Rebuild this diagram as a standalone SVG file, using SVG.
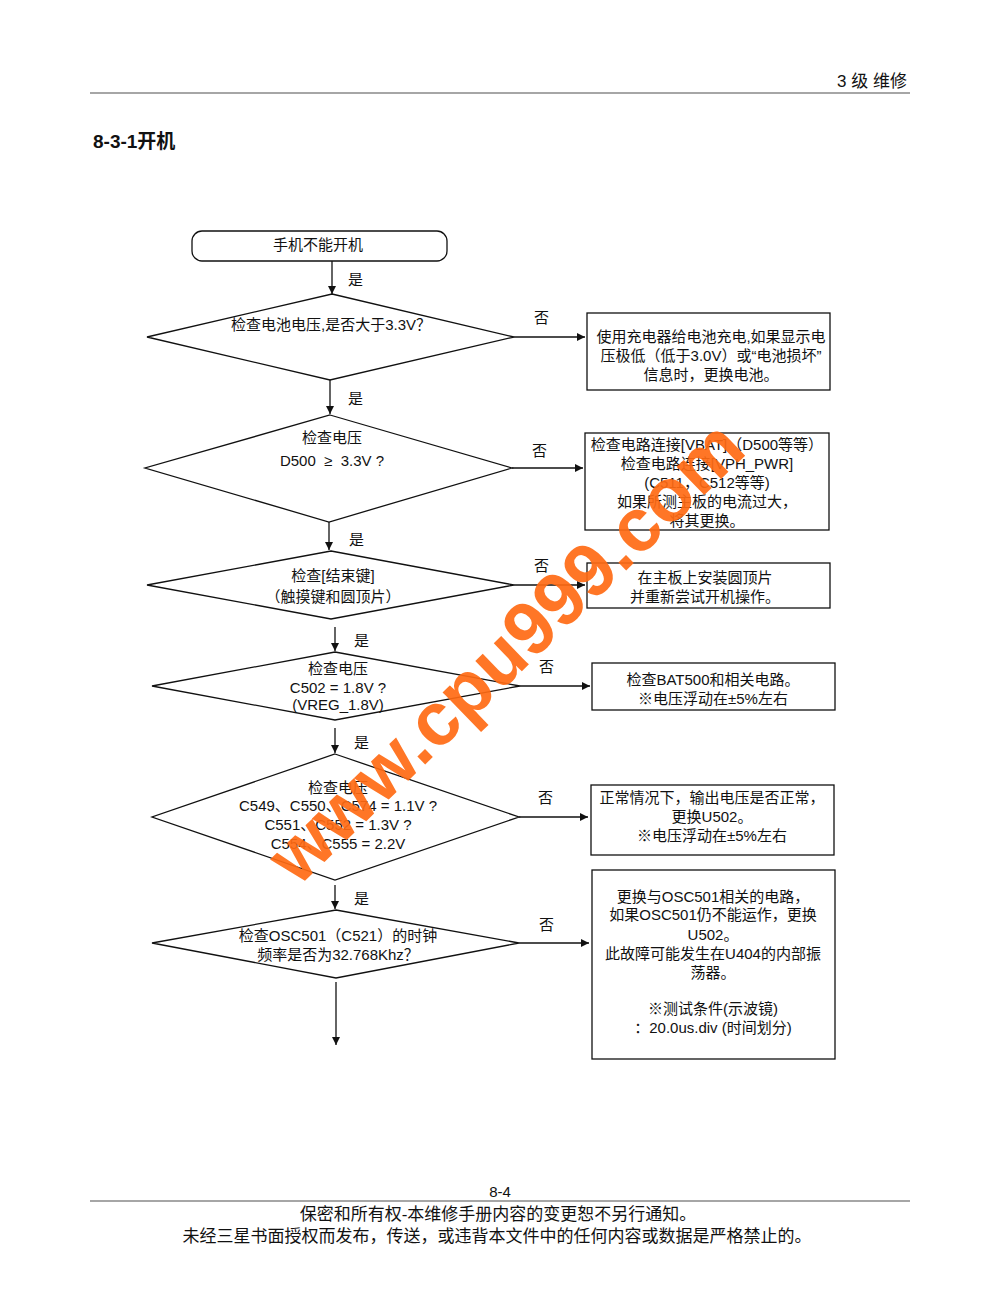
<svg xmlns="http://www.w3.org/2000/svg" width="1000" height="1294" viewBox="0 0 1000 1294">
<defs>
<style>
text{font-family:"Liberation Sans","Noto Sans CJK SC",sans-serif;fill:#111;}
.t{font-size:15px;text-anchor:middle;}
.lbl{font-size:15px;}
.shape{fill:#fff;stroke:#111;stroke-width:1.3;}
.conn{stroke:#111;stroke-width:1.3;fill:none;marker-end:url(#ah);}
.rule{stroke:#888;stroke-width:1.5;}
</style>
<marker id="ah" viewBox="0 0 10 10" refX="10" refY="5" markerWidth="10" markerHeight="8" markerUnits="userSpaceOnUse" orient="auto">
<path d="M0,0 L10,5 L0,10 z" fill="#111"/>
</marker>
</defs>
<rect width="1000" height="1294" fill="#fff"/>

<g id="header">
<text x="907" y="87" style="font-size:17px;text-anchor:end">3 级 维修</text>
<line class="rule" x1="90" y1="93" x2="910" y2="93"/>
<text x="93" y="148" style="font-size:19px;font-weight:bold">8-3-1开机</text>
</g>

<g id="connectors">
<line class="conn" x1="332" y1="261" x2="332" y2="294"/>
<line class="conn" x1="514" y1="337" x2="585" y2="337"/>
<line class="conn" x1="330" y1="380" x2="330" y2="414"/>
<line class="conn" x1="512" y1="468" x2="583" y2="468"/>
<line class="conn" x1="329" y1="522" x2="329" y2="550"/>
<line class="conn" x1="514" y1="585" x2="585" y2="585"/>
<line class="conn" x1="335" y1="627" x2="335" y2="651"/>
<line class="conn" x1="520" y1="686" x2="590" y2="686"/>
<line class="conn" x1="335" y1="728" x2="335" y2="753"/>
<line class="conn" x1="519" y1="817" x2="588" y2="817"/>
<line class="conn" x1="335" y1="885" x2="335" y2="909"/>
<line class="conn" x1="519" y1="943" x2="589" y2="943"/>
<line class="conn" x1="336" y1="982" x2="336" y2="1045"/>
<text class="lbl" x="348" y="285">是</text>
<text class="lbl" x="348" y="404">是</text>
<text class="lbl" x="349" y="545">是</text>
<text class="lbl" x="354" y="646">是</text>
<text class="lbl" x="354" y="748">是</text>
<text class="lbl" x="354" y="904">是</text>
<text class="lbl" x="534" y="323">否</text>
<text class="lbl" x="532" y="456">否</text>
<text class="lbl" x="534" y="571">否</text>
<text class="lbl" x="539" y="672">否</text>
<text class="lbl" x="538" y="803">否</text>
<text class="lbl" x="539" y="930">否</text>
</g>

<g id="start">
<rect class="shape" x="192" y="231" width="255" height="30" rx="10"/>
<text class="t" x="318" y="250">手机不能开机</text>
</g>

<g id="d1">
<polygon class="shape" points="332,294 514,337 330,380 147,337"/>
<text class="t" x="331" y="330">检查电池电压,是否大于3.3V？</text>
</g>
<g id="b1">
<rect class="shape" x="587" y="313" width="243" height="77"/>
<text class="t" x="711" y="342">使用充电器给电池充电,如果显示电</text>
<text class="t" x="711" y="361">压极低（低于3.0V）或“电池损坏”</text>
<text class="t" x="711" y="380">信息时，更换电池。</text>
</g>

<g id="d2">
<polygon class="shape" points="330,415 512,468 329,522 145,468"/>
<text class="t" x="332" y="443">检查电压</text>
<text class="t" x="332" y="466" style="white-space:pre">D500  ≥  3.3V ?</text>
</g>
<g id="b2">
<rect class="shape" x="585" y="433" width="244" height="97"/>
<text class="t" x="707" y="450">检查电路连接[VBAT]（D500等等）</text>
<text class="t" x="707" y="469">检查电路连接[VPH_PWR]</text>
<text class="t" x="707" y="488">(C511，C512等等)</text>
<text class="t" x="707" y="507">如果所测主板的电流过大，</text>
<text class="t" x="707" y="526">将其更换。</text>
</g>

<g id="d3">
<polygon class="shape" points="331,551 514,585 331,619 147,585"/>
<text class="t" x="333" y="581">检查[结束键]</text>
<text class="t" x="333" y="602">（触摸键和圆顶片）</text>
</g>
<g id="b3">
<rect class="shape" x="587" y="563" width="243" height="45"/>
<text class="t" x="705" y="583">在主板上安装圆顶片</text>
<text class="t" x="705" y="602">并重新尝试开机操作。</text>
</g>

<g id="d4">
<polygon class="shape" points="335,652 520,686 335,720 152,686"/>
<text class="t" x="338" y="674">检查电压</text>
<text class="t" x="338" y="693">C502 = 1.8V ?</text>
<text class="t" x="338" y="710">(VREG_1.8V)</text>
</g>
<g id="b4">
<rect class="shape" x="592" y="663" width="243" height="47"/>
<text class="t" x="713" y="685">检查BAT500和相关电路。</text>
<text class="t" x="713" y="704">※电压浮动在±5%左右</text>
</g>

<g id="d5">
<polygon class="shape" points="335,754 519,817 335,880 152,817"/>
<text class="t" x="338" y="793">检查电压</text>
<text class="t" x="338" y="811">C549、C550、C574 = 1.1V ?</text>
<text class="t" x="338" y="830">C551、C552 = 1.3V ?</text>
<text class="t" x="338" y="849">C554、C555 = 2.2V</text>
</g>
<g id="b5">
<rect class="shape" x="591" y="785" width="243" height="70"/>
<text class="t" x="712" y="803">正常情况下，输出电压是否正常，</text>
<text class="t" x="712" y="822">更换U502。</text>
<text class="t" x="712" y="841">※电压浮动在±5%左右</text>
</g>

<g id="d6">
<polygon class="shape" points="336,910 519,943 336,978 152,943"/>
<text class="t" x="338" y="941">检查OSC501（C521）的时钟</text>
<text class="t" x="338" y="960">频率是否为32.768Khz？</text>
</g>
<g id="b6">
<rect class="shape" x="592" y="870" width="243" height="189"/>
<text class="t" x="713" y="902">更换与OSC501相关的电路，</text>
<text class="t" x="713" y="920">如果OSC501仍不能运作，更换</text>
<text class="t" x="713" y="940">U502。</text>
<text class="t" x="713" y="959">此故障可能发生在U404的内部振</text>
<text class="t" x="713" y="978">荡器。</text>
<text class="t" x="713" y="1014">※测试条件(示波镜)</text>
<text class="t" x="713" y="1033">：20.0us.div (时间划分)</text>
</g>

<g id="footer">
<text x="500" y="1197" style="font-size:15px;text-anchor:middle">8-4</text>
<line class="rule" x1="90" y1="1201" x2="910" y2="1201"/>
<text x="498" y="1220" style="font-size:17px;text-anchor:middle">保密和所有权-本维修手册内容的变更恕不另行通知。</text>
<text x="497" y="1242" style="font-size:17px;text-anchor:middle">未经三星书面授权而发布，传送，或违背本文件中的任何内容或数据是严格禁止的。</text>
</g>

<g id="watermark">
<text x="0" y="0" transform="translate(523,670) rotate(-44)" style="font-size:75px;font-weight:bold;text-anchor:middle;fill:#ff6a13;fill-opacity:0.92">www.cpu999.com</text>
</g>
</svg>
